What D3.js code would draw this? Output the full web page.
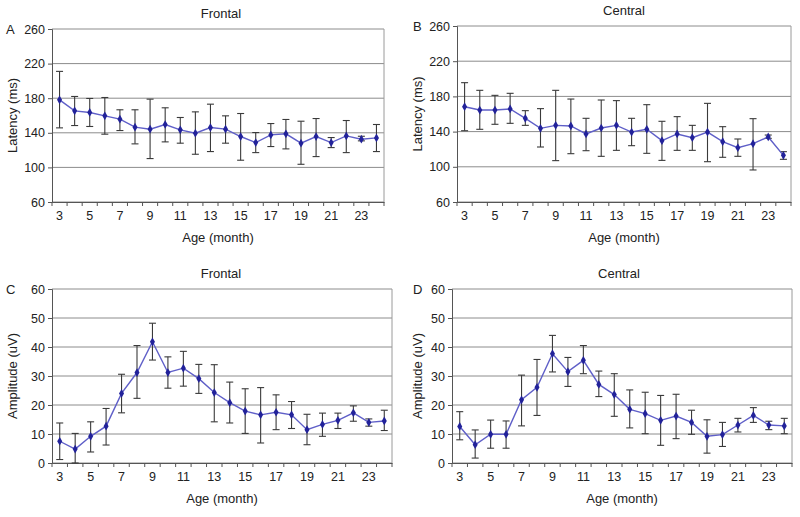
<!DOCTYPE html>
<html><head><meta charset="utf-8">
<script src="https://cdn.jsdelivr.net/npm/d3@7"></script>
<style>body{margin:0;background:#fff}svg{display:block;font-family:"Liberation Sans",Arial,sans-serif}</style>
</head><body><svg id="c" width="800" height="517"></svg>
<script>
const months = d3.range(3, 25);
const monthTickLabels = [3,5,7,9,11,13,15,17,19,21,23];
const latencyTicks = [60,100,140,180,220,260];
const amplitudeTicks = [0,10,20,30,40,50,60];

const frontalLatency    = [178.1,165.4,163.5,159.6,155.8,146.5,144.2,149.6,143.4,139.5,146.1,144.2,135.7,128.7,137.6,138.8,128.0,135.7,128.7,136.4,132.6,134.1];
const frontalLatencyHi  = [211.0,182.0,179.7,180.8,166.6,166.6,178.9,168.9,157.7,164.2,173.1,159.6,162.3,140.3,150.7,155.4,153.4,156.5,134.5,154.2,136.0,149.6];
const frontalLatencyLo  = [145.7,148.4,147.3,138.4,142.6,127.2,110.2,129.5,128.0,115.2,118.3,128.0,108.3,117.1,124.1,121.4,103.6,112.5,122.9,117.1,130.7,118.3];

const centralLatency    = [168.3,164.5,164.5,165.7,155.1,143.7,147.1,146.4,137.3,144.1,147.1,139.5,142.6,129.7,137.3,133.1,139.5,128.6,121.7,126.3,133.9,113.0];
const centralLatencyHi  = [195.6,186.9,181.2,183.5,163.8,166.1,186.9,177.0,155.1,175.9,175.2,155.1,170.6,151.7,157.0,147.1,172.1,145.6,131.6,154.7,136.1,117.2];
const centralLatencyLo  = [141.0,142.6,148.3,149.4,147.1,122.5,107.0,114.9,118.3,111.9,118.7,124.0,115.3,107.3,118.7,118.7,105.8,110.8,111.9,96.4,132.3,108.5];

const frontalAmplitude   = [7.5,4.8,9.2,12.7,24.0,31.2,41.8,31.2,32.7,29.1,24.3,20.8,17.9,16.6,17.5,16.6,11.5,13.3,14.7,17.3,14.0,14.5];
const frontalAmplitudeHi = [13.8,10.2,14.2,18.8,30.6,40.5,48.2,36.6,38.5,34.0,33.9,27.9,25.6,26.0,23.5,21.2,16.8,17.2,17.2,19.7,15.2,18.2];
const frontalAmplitudeLo = [1.2,0.0,3.8,6.2,17.3,22.3,35.5,25.8,26.5,24.0,14.2,13.8,10.2,6.9,11.5,11.9,6.3,9.2,11.9,14.4,12.7,11.2];

const centralAmplitude   = [12.6,6.3,9.9,9.9,21.8,26.1,37.7,31.5,35.4,27.1,23.6,18.5,17.0,14.7,16.2,14.0,9.2,9.8,13.1,16.4,13.1,12.8];
const centralAmplitudeHi = [17.7,11.4,14.8,14.5,30.3,35.7,44.0,36.4,40.5,31.7,30.8,25.2,24.4,23.3,23.7,18.2,14.9,14.0,15.4,19.1,14.4,15.4];
const centralAmplitudeLo = [8.0,1.7,5.1,5.1,12.8,16.4,31.4,26.4,30.8,22.9,16.1,12.1,10.1,6.1,8.4,9.9,3.4,5.7,10.7,14.0,11.5,10.1];

const svg = d3.select("#c");

function panel(o) {
  const g = svg.append("g");
  const x = d3.scaleBand().domain(months).range([o.x0, o.x1]);
  const y = d3.scaleLinear().domain([o.ticks[0], o.ticks[o.ticks.length-1]]).range([o.y1, o.y0]);

  // grid
  g.selectAll(".grid").data(o.ticks).join("line")
    .attr("x1", o.x0).attr("x2", o.x1)
    .attr("y1", d => y(d)).attr("y2", d => y(d))
    .attr("stroke", "#8c8c8c").attr("stroke-width", 1);
  // border right
  g.append("line").attr("x1", o.x1).attr("x2", o.x1).attr("y1", o.y0).attr("y2", o.y1)
    .attr("stroke", "#9a9a9a");

  // y axis
  const ya = g.append("g").attr("transform", `translate(${o.x0},0)`)
    .call(d3.axisLeft(y).tickValues(o.ticks).tickSize(4).tickPadding(3));
  ya.select(".domain").attr("stroke", "#555");
  ya.selectAll(".tick line").attr("stroke", "#555");
  ya.selectAll("text").attr("font-size", 12.5).attr("fill", "#222").attr("font-family", "Liberation Sans, Arial, sans-serif");

  // x axis
  const xa = g.append("g").attr("transform", `translate(0,${o.y1})`)
    .call(d3.axisBottom(x).tickValues(monthTickLabels).tickSize(0).tickPadding(9));
  xa.select(".domain").attr("stroke", "#555");
  xa.selectAll("text").attr("font-size", 12.5).attr("fill", "#222").attr("font-family", "Liberation Sans, Arial, sans-serif");
  g.selectAll(".xt").data(months.concat([25])).join("line")
    .attr("x1", d => d === 25 ? o.x1 : x(d)).attr("x2", d => d === 25 ? o.x1 : x(d))
    .attr("y1", o.y1).attr("y2", o.y1 + 4).attr("stroke", "#555");

  const cx = d => x(d) + x.bandwidth()/2;

  // error bars
  const eb = g.append("g").attr("stroke", "#3a3a3a").attr("stroke-width", 1.1);
  months.forEach((m, i) => {
    const xx = cx(m), hi = y(o.hi[i]), lo = y(o.lo[i]);
    eb.append("line").attr("x1", xx).attr("x2", xx).attr("y1", hi).attr("y2", lo);
    eb.append("line").attr("x1", xx-3.5).attr("x2", xx+3.5).attr("y1", hi).attr("y2", hi);
    eb.append("line").attr("x1", xx-3.5).attr("x2", xx+3.5).attr("y1", lo).attr("y2", lo);
  });

  // line
  g.append("path").datum(o.v)
    .attr("d", d3.line().x((d, i) => cx(months[i])).y(d => y(d)))
    .attr("fill", "none").attr("stroke", "#5f5fc8").attr("stroke-width", 1.4);
  // markers
  g.selectAll(".mk").data(o.v).join("path")
    .attr("d", d3.symbol(d3.symbolDiamond, 22))
    .attr("transform", (d, i) => `translate(${cx(months[i])},${y(d)})`)
    .attr("fill", "#22229a");

  // texts
  g.append("text").attr("x", o.tx).attr("y", o.y0 - 11).attr("text-anchor", "middle")
    .attr("font-size", 13).attr("fill", "#222").text(o.title);
  g.append("text").attr("x", o.lx).attr("y", o.y0 + 5).attr("font-size", 13).attr("fill", "#222").text(o.letter);
  g.append("text").attr("transform", `translate(${o.yx},${(o.y0+o.y1)/2}) rotate(-90)`)
    .attr("text-anchor", "middle").attr("font-size", 13).attr("fill", "#222").text(o.ytitle);
  g.append("text").attr("x", (o.x0+o.x1)/2).attr("y", o.y1 + 40).attr("text-anchor", "middle")
    .attr("font-size", 13).attr("fill", "#222").text("Age (month)");
}

panel({x0:52, x1:384, y0:29, y1:202, ticks:latencyTicks, v:frontalLatency, hi:frontalLatencyHi, lo:frontalLatencyLo,
  title:"Frontal", tx:221, letter:"A", lx:6, yx:17, ytitle:"Latency (ms)"});
panel({x0:457, x1:791, y0:26, y1:202, ticks:latencyTicks, v:centralLatency, hi:centralLatencyHi, lo:centralLatencyLo,
  title:"Central", tx:624, letter:"B", lx:413, yx:422, ytitle:"Latency (ms)"});
panel({x0:52, x1:392, y0:289, y1:463, ticks:amplitudeTicks, v:frontalAmplitude, hi:frontalAmplitudeHi, lo:frontalAmplitudeLo,
  title:"Frontal", tx:221, letter:"C", lx:6, yx:17, ytitle:"Amplitude (uV)"});
panel({x0:452, x1:792, y0:289, y1:463, ticks:amplitudeTicks, v:centralAmplitude, hi:centralAmplitudeHi, lo:centralAmplitudeLo,
  title:"Central", tx:619, letter:"D", lx:413, yx:422, ytitle:"Amplitude (uV)"});
</script></body></html>
